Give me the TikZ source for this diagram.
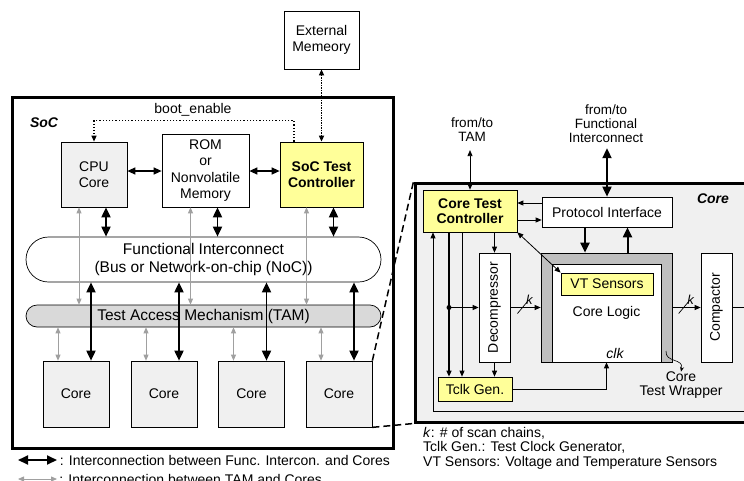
\documentclass[tikz,border=0pt]{standalone}
\usepackage{fontspec}
\setmainfont{Liberation Sans}
\usepackage{graphicx}
\usepackage{tikz}
\usetikzlibrary{arrows.meta,positioning,calc,shapes.misc}
\definecolor{tyellow}{RGB}{255,255,153}
\definecolor{lgray}{RGB}{240,240,240}
\definecolor{tamgray}{RGB}{217,217,217}
\definecolor{wrapgray}{RGB}{191,191,191}
\definecolor{arrgray}{RGB}{160,160,160}
\tikzset{
  box/.style={draw,line width=0.7pt,inner sep=0pt,align=center,font=\fontsize{14}{16.5}\selectfont},
  grybox/.style={box,fill=lgray},
  yelbox/.style={box,fill=tyellow,font=\fontsize{14}{15.5}\selectfont\bfseries},
  bus/.style={draw,line width=0.7pt,rounded rectangle,inner sep=0pt,align=center,minimum width=355pt,font=\fontsize{15.5}{18.5}\selectfont},
  outerbox/.style={draw,line width=3pt,inner sep=0pt},
  zoomline/.style={line width=1.5pt,dash pattern=on 7pt off 4pt},
  lbl/.style={inner sep=0pt,align=center,font=\fontsize{14}{14}\selectfont},
  fcarr/.style={line width=1.8pt,{Triangle[width=9pt,length=10pt]}-{Triangle[width=9pt,length=10pt]}},
  tcarr/.style={draw=arrgray,line width=0.8pt,{Triangle[width=5pt,length=6pt]}-{Triangle[width=5pt,length=6pt]}},
  medarr/.style={line width=1.3pt,{Triangle[width=7pt,length=8pt]}-{Triangle[width=7pt,length=8pt]}},
  thk/.style={line width=2pt,-{Triangle[width=9pt,length=10pt]}},
  sig/.style={line width=0.8pt,-{Triangle[width=5pt,length=6pt]}},
  bisig/.style={line width=0.8pt,{Triangle[width=5pt,length=6pt]}-{Triangle[width=5pt,length=6pt]}},
}
\begin{document}
\begin{tikzpicture}[x=1pt,y=-1pt]
\fill[white] (0,0) rectangle (744,480);
\useasboundingbox (0,0) rectangle (744,480);

% SoC level
\node[box,minimum width=75pt,minimum height=58pt] (extmem) at (321.5,40) {External\\Memeory};
\node[outerbox,minimum width=381pt,minimum height=351pt] (soc) at (202.5,272.5) {};
\node[lbl,font=\fontsize{14}{14}\selectfont\bfseries\itshape] (soclbl) at (44,123) {SoC};
\node[grybox,minimum width=66pt,minimum height=65pt] (cpu) at (94,174.5) {CPU\\Core};
\node[box,fill=white,minimum width=87pt,minimum height=73pt] (rom) at (205.5,170.5) {ROM\\or\\Nonvolatile\\Memory};
\node[yelbox,minimum width=83pt,minimum height=65pt] (stc) at (321.5,174.5) {SoC Test\\Controller};
\node[bus,fill=white,minimum height=45pt] (fi) at (203.5,259.5) {Functional Interconnect\\(Bus or Network-on-chip (NoC))};
\node[bus,fill=tamgray,minimum height=22pt] (tam) at (203.5,316) {Test Access Mechanism (TAM)};

\node[lbl] (bootlbl) at (193,110) {boot\_enable};
\draw[dotted,line width=1.2pt,-{Triangle[width=5pt,length=6pt]}] ([xshift=-27.5pt]stc.north) -- ++(0,-21) -| (cpu.north);
\draw[densely dotted,line width=1.5pt,{Triangle[width=5pt,length=6pt]}-{Triangle[width=5pt,length=6pt]}] (extmem.south) -- (stc.north);
\draw[medarr] ([yshift=3.5pt]cpu.east) -- ([yshift=3.5pt]cpu.east -| rom.west);
\draw[medarr] ([yshift=3.5pt]stc.west -| rom.east) -- ([yshift=3.5pt]stc.west);

\foreach \n in {cpu,rom,stc}{
  \draw[fcarr] ([xshift=12pt]\n.south) -- ([xshift=12pt]\n.south |- fi.north);
  \draw[tcarr] ([xshift=-15pt]\n.south) -- ([xshift=-15pt]\n.south |- tam.north);
}
\foreach \i/\x in {1/76,2/164,3/251.5,4/339}{
  \node[grybox,minimum size=66pt] (core\i) at (\x,394) {Core};
  \draw[fcarr] ([xshift=15pt]core\i.north) -- ([xshift=15pt]core\i.north |- fi.south);
  \draw[tcarr] ([xshift=-18pt]core\i.north) -- ([xshift=-18pt]core\i.north |- tam.south);
}

\draw[fcarr] (18,460) -- (57,460) node[lbl,anchor=west,xshift=2pt] (lgfc) {: Interconnection between Func. Intercon. and Cores};
\draw[tcarr] (18,479) -- (57,479) node[lbl,anchor=west,xshift=2pt] (lgtc) {: Interconnection between TAM and Cores};

% zoom into one core
\node[outerbox,fill=lgray,minimum width=355pt,minimum height=239pt] (coreframe) at (592.5,302.5) {};
\draw[zoomline] (core4.north east) -- (coreframe.north west);
\draw[zoomline] (core4.south east) -- (coreframe.south west);
\node[lbl,font=\fontsize{14}{14}\selectfont\bfseries\itshape] (corelbl) at (713,199) {Core};

\node[yelbox,minimum width=94pt,minimum height=42pt] (ctc) at (470,211) {Core Test\\Controller};
\node[box,fill=white,minimum width=130pt,minimum height=30pt] (pi) at (607,212) {Protocol Interface};
\node[box,fill=wrapgray,minimum width=131pt,minimum height=109pt] (wrapper) at (606.5,307.5) {};
\node[box,fill=white,minimum width=109pt,minimum height=98pt] (logic) at (606.5,313) {Core Logic};
\node[yelbox,font=\fontsize{14}{16}\selectfont,minimum width=92pt,minimum height=22pt] (vt) at (607,284) {VT Sensors};
\node[lbl,font=\fontsize{14}{14}\selectfont\itshape] (clk) at (615,353) {clk};
\node[box,fill=white,minimum width=31pt,minimum height=109pt] (dec) at (494.5,307.5) {\rotatebox{90}{Decompressor}};
\node[box,fill=white,minimum width=31pt,minimum height=109pt] (comp) at (716.5,307.5) {\rotatebox{90}{Compactor}};
\node[yelbox,font=\fontsize{14}{16}\selectfont,minimum width=74pt,minimum height=24pt] (tclk) at (475,389) {Tclk Gen.};

\node[lbl,font=\fontsize{13.5}{14}\selectfont] (fromtam) at (472,130) {from/to\\TAM};
\node[lbl,font=\fontsize{13.5}{14}\selectfont] (fromfi) at (606,124) {from/to\\Functional\\Interconnect};
\draw[bisig] (ctc.north) -- ([yshift=-8pt]ctc.north |- fromtam.south);
\draw[fcarr] (pi.north) -- ([yshift=-5pt]pi.north |- fromfi.south);

\draw[sig] ([yshift=8pt]ctc.east -| pi.west) -- ([yshift=8pt]ctc.east);
\draw[sig] ([yshift=-9pt]ctc.east) -- ([yshift=-9pt]ctc.east -| pi.west);
\draw[thk] ([xshift=-22pt]pi.south) -- ([xshift=-22pt]pi.south |- wrapper.north);
\draw[thk] ([xshift=21pt]wrapper.north) -- ([xshift=21pt]wrapper.north |- pi.south);
\draw[bisig] (ctc.south east) -- (vt.north west);

\draw[sig] (dec.north |- ctc.south) -- (dec.north);
\draw[sig] (dec.south) -- (dec.south |- tclk.north);
\draw[sig,line width=1.3pt] ([xshift=-21pt]ctc.south) -- ([xshift=-21pt]ctc.south |- tclk.north);
\draw[sig] ([xshift=-8pt]ctc.south) -- ([xshift=-8pt]ctc.south |- tclk.north);
\coordinate (tap) at ([xshift=-21pt]ctc.south |- dec.west);
\fill (tap) circle (2.5pt);
\draw[sig,line width=1.3pt] (tap) -- (dec.west);

\draw[sig] (dec.east) -- coordinate[pos=0.4] (k1) (wrapper.west);
\draw[line width=0.7pt] ([shift={(-5pt,-6pt)}]k1) -- ([shift={(5pt,6pt)}]k1);
\node[lbl,font=\fontsize{13}{13}\selectfont\itshape] (k1lbl) at ([shift={(7pt,8pt)}]k1) {k};
\draw[sig] (wrapper.east) -- coordinate[pos=0.4] (k2) (comp.west);
\draw[line width=0.7pt] ([shift={(-5pt,-6pt)}]k2) -- ([shift={(5pt,6pt)}]k2);
\node[lbl,font=\fontsize{13}{13}\selectfont\itshape] (k2lbl) at ([shift={(7pt,8pt)}]k2) {k};

\draw[sig] (tclk.east) -| (logic.south);
\coordinate (fbturn) at (433,411);
\draw[sig] (comp.east) -- ++(40,0) |- (fbturn) -- (fbturn |- ctc.south);

\node[lbl,font=\fontsize{14}{13.5}\selectfont] (wraplbl) at (681,385) {Core\\Test Wrapper};
\draw[line width=0.6pt,-{Stealth[width=4pt,length=5pt]}] (666,351) .. controls (665,363) and (684,358) .. (wraplbl.north);

\node[lbl,anchor=north west,align=left,font=\fontsize{14}{14.5}\selectfont] (notes) at (423,427) {\textit{k}: \# of scan chains,\\Tclk Gen.: Test Clock Generator,\\VT Sensors: Voltage and Temperature Sensors};
\end{tikzpicture}
\end{document}
